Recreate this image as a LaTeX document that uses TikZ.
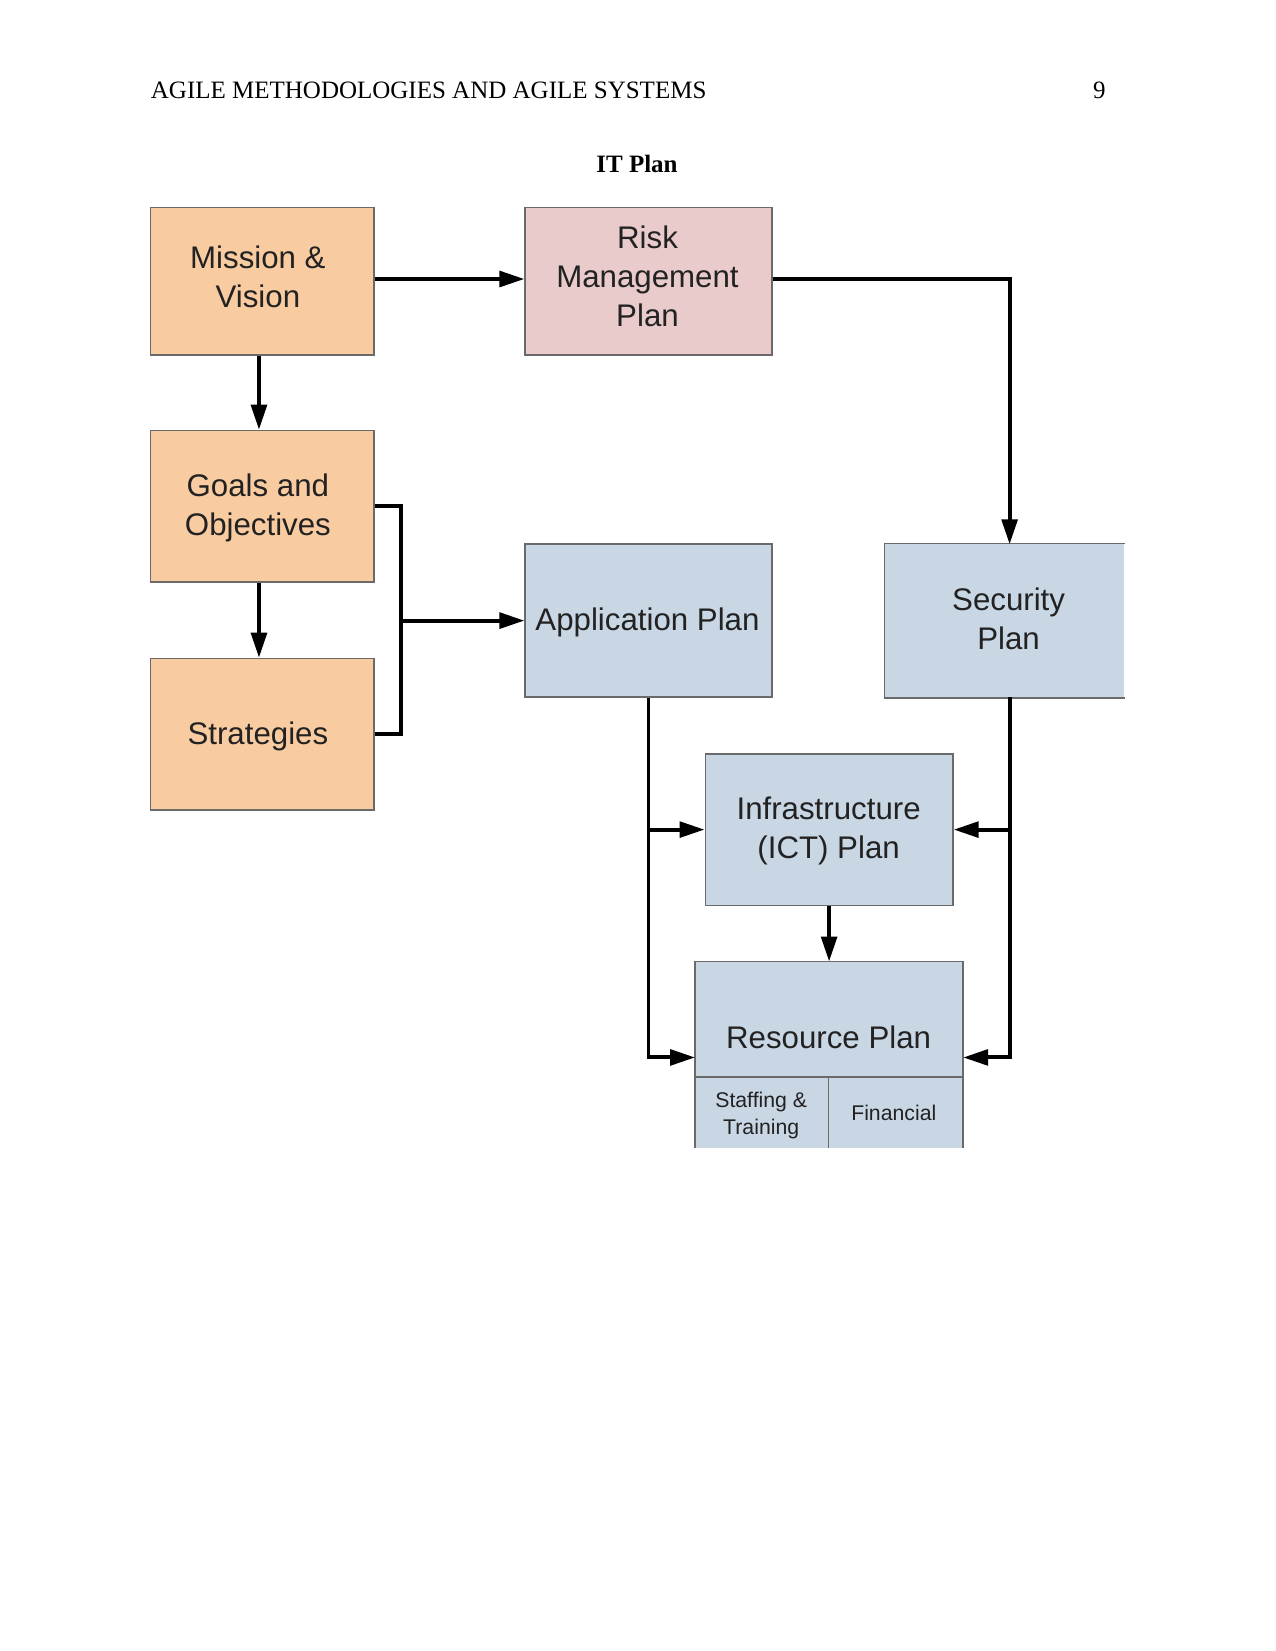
\documentclass[tikz,border=0pt]{standalone}
\usepackage{fontspec}
\setmainfont{Liberation Serif}
\newfontfamily\boxfont{Liberation Sans}
\usetikzlibrary{arrows.meta,calc}
\definecolor{peach}{HTML}{F9CBA1}
\definecolor{riskpink}{HTML}{EACBCC}
\definecolor{planblue}{HTML}{C9D6E4}
\definecolor{edgegray}{HTML}{6A6A6A}
\definecolor{textdark}{HTML}{222222}
\tikzset{
  x=0.48pt, y=-0.48pt,
  plainbox/.style={rectangle, inner sep=0pt, draw=edgegray, line width=0.8pt},
  orangebox/.style={plainbox, fill=peach, minimum width=107.1pt, minimum height=72.8pt},
  pinkbox/.style={plainbox, fill=riskpink, minimum width=118.3pt, minimum height=70.8pt},
  bluebox/.style={plainbox, fill=planblue},
  boxtext/.style={inner sep=0pt, text depth=0pt, font=\boxfont\fontsize{15}{18.7}\selectfont, text=textdark, align=center},
  smalltext/.style={inner sep=0pt, text depth=0pt, font=\boxfont\fontsize{10.2}{12.6}\selectfont, text=textdark, align=center},
  conn/.style={line width=1.9pt, -{Triangle[length=12pt,width=7.5pt]}},
  plainconn/.style={line width=1.9pt},
}
\begin{document}
\begin{tikzpicture}
\useasboundingbox (0,0) rectangle (1275,1651);
% header
\node[anchor=base west, inner sep=0pt, font=\fontsize{12}{14}\selectfont] (hdr) at (150.5,99) {AGILE METHODOLOGIES AND AGILE SYSTEMS};
\node[anchor=base east, inner sep=0pt, font=\fontsize{12}{14}\selectfont] (pg) at (1106,99) {9};
\node[anchor=base, inner sep=0pt, font=\bfseries\fontsize{12}{14}\selectfont] (title) at (637,173) {IT Plan};

% boxes
\node[orangebox, minimum height=70.8pt] (mission) at (262.1,281.1) {};
\node[pinkbox] (risk) at (648.5,281.1) {};
\node[orangebox] (goals) at (262.1,506.4) {};
\node[orangebox] (strat) at (262.1,734.4) {};
\node[bluebox, minimum width=118.3pt, minimum height=73.3pt] (app) at (648.5,620.6) {};
\node[bluebox, draw=none, minimum width=114.7pt, minimum height=73.3pt] (sec) at (1004.9,620.6) {};
\draw[edgegray, line width=0.8pt] (sec.north east) -- (sec.north west) -- (sec.south west) -- (sec.south east);
\node[bluebox, minimum width=118.8pt, minimum height=72.8pt] (infra) at (829.1,829.6) {};
\node[bluebox, draw=none, minimum width=127.9pt, minimum height=88.9pt] (res) at (829.1,1054.95) {};
\draw[edgegray, line width=0.8pt] (res.south west) -- (res.north west) -- (res.north east) -- (res.south east);
\coordinate (divl) at (695.9,1077);
\coordinate (divr) at (962.3,1077);
\coordinate (splitt) at (828.6,1077);
\draw[edgegray, line width=0.8pt] (divl) -- (divr);
\draw[edgegray, line width=0.8pt] (splitt) -- (splitt |- res.south);

% texts
\node[boxtext] (missiontext) at (257.9,276.4) {Mission \&\\Vision};
\node[boxtext] (risktext) at (647.5,276.4) {Risk\\Management\\Plan};
\node[boxtext] (goalstext) at (257.9,504.3) {Goals and\\Objectives};
\node[boxtext] (strattext) at (257.9,732.7) {Strategies};
\node[boxtext] (apptext) at (647.5,619) {Application Plan};
\node[boxtext] (sectext) at (1008.6,618.5) {Security\\Plan};
\node[boxtext] (infratext) at (828.6,828) {Infrastructure\\(ICT) Plan};
\node[boxtext] (restext) at (828.6,1037) {Resource Plan};
\node[smalltext] (staff) at (761.2,1113.3) {Staffing \&\\Training};
\node[smalltext] (fin) at (893.8,1112.8) {Financial};

% connectors
\draw[conn] ([yshift=1pt]mission.east) -- ([yshift=1pt]risk.west);
\draw[conn] ([xshift=-1.5pt]mission.south) -- ([xshift=-1.5pt]goals.north);
\draw[conn] ([xshift=-1.5pt]goals.south) -- ([xshift=-1.5pt]strat.north);
\coordinate (brtop) at (401.1,506.4);
\coordinate (brmid) at (401.1,620.6);
\draw[plainconn] (goals.east) -- (brtop) |- (strat.east);
\draw[conn] (brmid) -- (app.west);

\coordinate (secin) at (1009.6,544.3);
\coordinate (secout) at (1009.6,697);
\draw[conn] ([yshift=1pt]risk.east) -| (secin);

\draw[conn] (app.south) |- ([yshift=-1.2pt]res.west);
\draw[conn] (app.south |- infra.west) -- (infra.west);
\draw[conn] (secout) |- ([yshift=-1.2pt]res.east);
\draw[conn] (secout |- infra.east) -- (infra.east);
\draw[conn] (infra.south) -- (res.north);
\end{tikzpicture}
\end{document}
